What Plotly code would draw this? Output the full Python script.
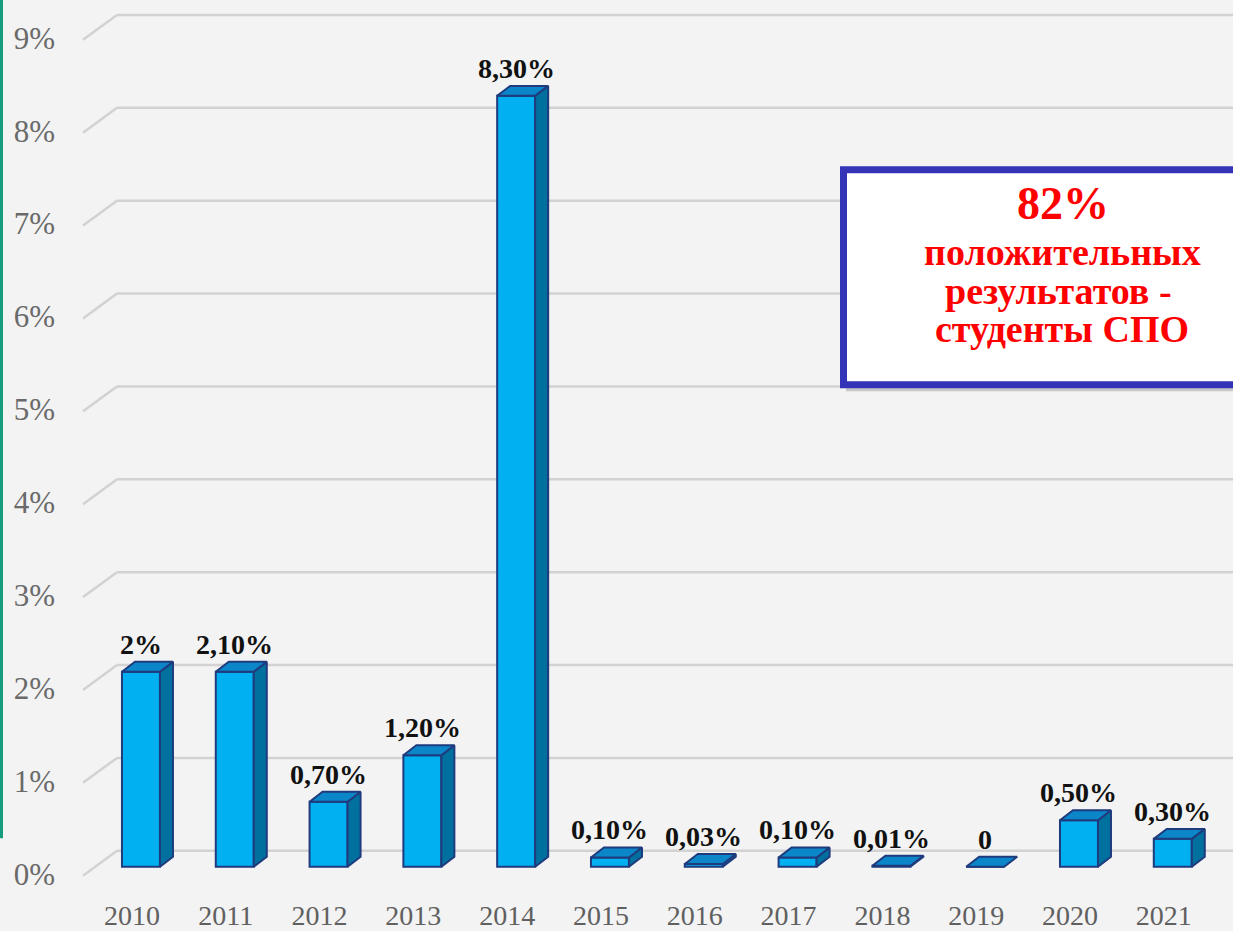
import plotly.graph_objects as go

years = ["2010", "2011", "2012", "2013", "2014", "2015", "2016", "2017", "2018", "2019", "2020", "2021"]
values = [2.1, 2.1, 0.7, 1.2, 8.3, 0.1, 0.03, 0.1, 0.01, 0.0, 0.5, 0.3]
labels = ["2%", "2,10%", "0,70%", "1,20%", "8,30%", "0,10%", "0,03%", "0,10%", "0,01%", "0", "0,50%", "0,30%"]
y_ticks = [0, 1, 2, 3, 4, 5, 6, 7, 8, 9]
y_tick_text = ["0%", "1%", "2%", "3%", "4%", "5%", "6%", "7%", "8%", "9%"]

# pixel geometry helpers (plot area)
ML, MR, MT, MB = 80, 0, 5, 51
W, H = 1233, 931
PW, PH = W - ML - MR, H - MT - MB
XR = [-0.650, 11.642]
YR = [-0.10, 9.278]
px_x = PW / (XR[1] - XR[0])
px_y = PH / (YR[1] - YR[0])

bar_w = 38 / px_x
dX = 13 / px_x
dY = 10 / px_y

FRONT = "#00B0F0"
TOP = "#0B86C8"
SIDE = "#00709F"
EDGE = "#1F3B7E"

xs = list(range(len(years)))

fig = go.Figure()

# front faces
fig.add_trace(go.Bar(
    x=xs, y=values, width=bar_w,
    marker=dict(color=FRONT, line=dict(color=EDGE, width=2)),
    hoverinfo="skip", showlegend=False,
))

# top and side faces
tx, ty, sx, sy = [], [], [], []
for i, v in zip(xs, values):
    l, r = i - bar_w / 2, i + bar_w / 2
    tx += [l, r, r + dX, l + dX, l, None]
    ty += [v, v, v + dY, v + dY, v, None]
    if v > 0:
        sx += [r, r, r + dX, r + dX, r, None]
        sy += [0, v, v + dY, dY, 0, None]

fig.add_trace(go.Scatter(x=sx, y=sy, mode="lines", fill="toself", fillcolor=SIDE,
                         line=dict(color=EDGE, width=2), hoverinfo="skip", showlegend=False))
fig.add_trace(go.Scatter(x=tx, y=ty, mode="lines", fill="toself", fillcolor=TOP,
                         line=dict(color=EDGE, width=2), hoverinfo="skip", showlegend=False))

# back-wall gridlines with diagonal floor edge
shapes = []
front_dx = 3 / px_x
back_dx = 37 / px_x
front_dy = -9 / px_y
back_dy = 16 / px_y
for v in y_ticks:
    x_front = XR[0] + front_dx
    x_back = XR[0] + back_dx
    shapes.append(dict(type="line", xref="x", yref="y", layer="below",
                       x0=x_front, y0=v + front_dy, x1=x_back, y1=v + back_dy,
                       line=dict(color="#D2D2D2", width=2.5)))
    shapes.append(dict(type="line", xref="x", yref="y", layer="below",
                       x0=x_back, y0=v + back_dy, x1=XR[1] + 1, y1=v + back_dy,
                       line=dict(color="#D2D2D2", width=2.5)))

def paper_x(px):
    return (px - ML) / PW

def paper_y(py):
    return (H - MB - py) / PH

# left green accent line
shapes.append(dict(type="line", xref="paper", yref="paper",
                   x0=paper_x(1.5), x1=paper_x(1.5), y0=paper_y(842), y1=paper_y(-5),
                   line=dict(color="#149C7C", width=3)))

# info box shadow and box
shapes.append(dict(type="rect", xref="paper", yref="paper",
                   x0=paper_x(846), x1=paper_x(1245), y0=paper_y(393), y1=paper_y(175),
                   fillcolor="rgba(0,0,0,0.18)", line=dict(width=0)))
shapes.append(dict(type="rect", xref="paper", yref="paper",
                   x0=paper_x(843.5), x1=paper_x(1245), y0=paper_y(386.5), y1=paper_y(170.5),
                   fillcolor="white", line=dict(color="#3434B8", width=7)))

annotations = []
for i, v, t in zip(xs, values, labels):
    annotations.append(dict(x=i, y=v + dY, xref="x", yref="y", text=t, showarrow=False,
                            xanchor="center", yanchor="bottom", yshift=0,
                            font=dict(family="Liberation Serif", size=28, color="#111111", weight="bold")))

box_font = dict(family="Liberation Serif", color="#FF0000", weight="bold")
annotations.append(dict(xref="paper", yref="paper", x=paper_x(1063), y=paper_y(204),
                        xanchor="center", yanchor="middle", borderpad=0,
                        text="82%", showarrow=False, font=dict(box_font, size=46)))
for txt, cx, cy in [("положительных", 1062, 253), ("результатов -", 1058, 292), ("студенты СПО", 1062, 330)]:
    annotations.append(dict(xref="paper", yref="paper", x=paper_x(cx), y=paper_y(cy),
                            xanchor="center", yanchor="middle", borderpad=0,
                            text=txt, showarrow=False, font=dict(box_font, size=38)))

fig.update_layout(
    width=W, height=H,
    margin=dict(l=ML, r=MR, t=MT, b=MB),
    paper_bgcolor="#F3F3F3", plot_bgcolor="#F3F3F3",
    bargap=0.5,
    shapes=shapes, annotations=annotations,
    showlegend=False,
    xaxis=dict(range=XR, tickvals=xs, ticktext=years, showgrid=False, zeroline=False,
               showline=False, ticks="", ticklabelstandoff=20, ticklabelshift=-9,
               tickfont=dict(family="Liberation Serif", size=28, color="#606060")),
    yaxis=dict(range=YR, tickvals=y_ticks, ticktext=y_tick_text, showgrid=False, zeroline=False,
               showline=False, ticks="", ticklabelstandoff=24, ticklabelshift=7,
               tickfont=dict(family="Liberation Serif", size=31, color="#6A6A6A")),
)

fig.write_html("out.html", config={"displayModeBar": False},
               post_script="document.body.style.margin='0';document.body.style.background='#F3F3F3';")
